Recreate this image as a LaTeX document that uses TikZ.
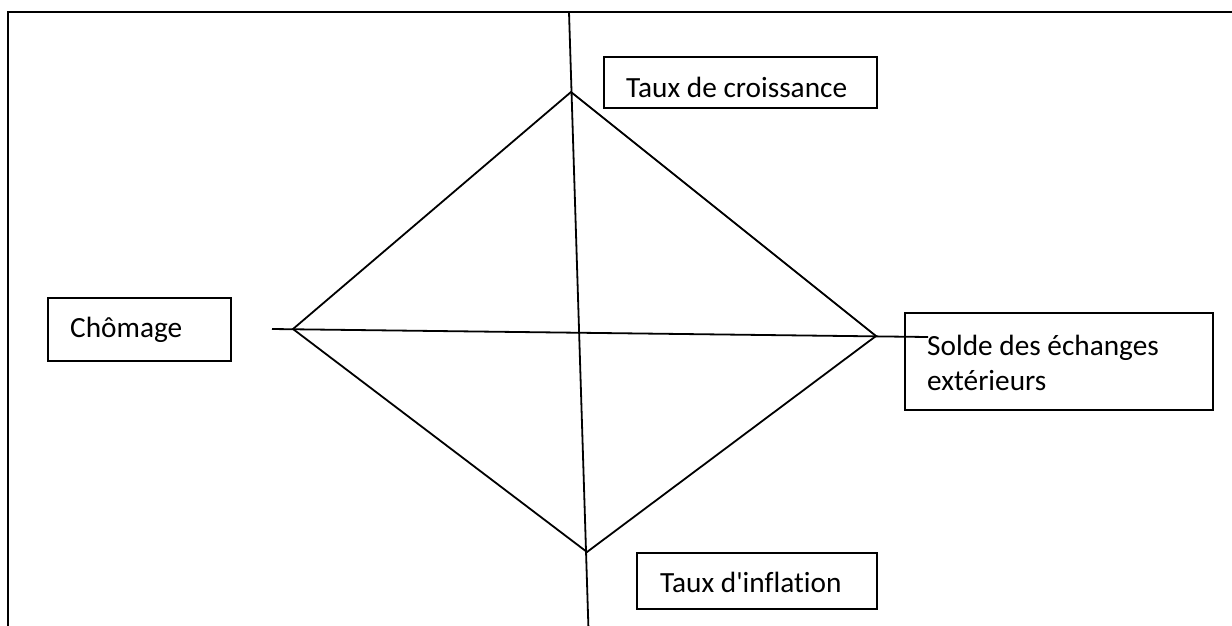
\documentclass[tikz,border=0pt]{standalone}
\usepackage{fontspec}
\setmainfont{Carlito}[Ligatures=CommonOff]
\begin{document}
\begin{tikzpicture}[x=1pt,y=-1pt,
  frame/.style={line width=2.8pt},
  axis/.style={line width=1.8pt},
  box/.style={draw,line width=1.8pt,rectangle,inner sep=0pt},
  lbl/.style={anchor=base west,inner sep=0pt,font=\fontsize{29.3}{35}\selectfont}]
\useasboundingbox (0,0) rectangle (1232,625);
\clip (0,0) rectangle (1232,625);
\fill[white] (0,0) rectangle (1232,625);
% frame
\coordinate (fr1) at (1240,12);
\coordinate (fr2) at (8,12);
\coordinate (fr3) at (8,640);
\draw[frame] (fr1) -- (fr2) -- (fr3);
% axes
\coordinate (vt) at (569,12);
\coordinate (vb) at (588.5,630);
\coordinate (hl) at (272,329);
\coordinate (hr) at (928,337);
\draw[axis] (vt) -- (vb);
\draw[axis] (hl) -- (hr);
% diamond
\coordinate (dT) at (571,92);
\coordinate (dL) at (293,329);
\coordinate (dR) at (876,336);
\coordinate (dB) at (587,552);
\draw[axis,line join=miter] (dT) -- (dR) -- (dB) -- (dL) -- cycle;
% boxes
\node[box,minimum width=273pt,minimum height=51pt] (bC) at (740.5,82.5) {};
\node[box,minimum width=183pt,minimum height=63pt] (bH) at (139.5,329.5) {};
\node[box,minimum width=308pt,minimum height=97pt] (bS) at (1059,361.5) {};
\node[box,minimum width=240pt,minimum height=56pt] (bI) at (757,581) {};
% labels
\node[lbl] (tC) at (626,97) {Taux de croissance};
\node[lbl] (tH) at (70,337) {Chômage};
\node[lbl] (tS1) at (927,355) {Solde des échanges};
\node[lbl] (tS2) at (927,390) {extérieurs};
\node[lbl] (tI) at (660,592) {Taux d\textquotesingle inflation};
\end{tikzpicture}
\end{document}
